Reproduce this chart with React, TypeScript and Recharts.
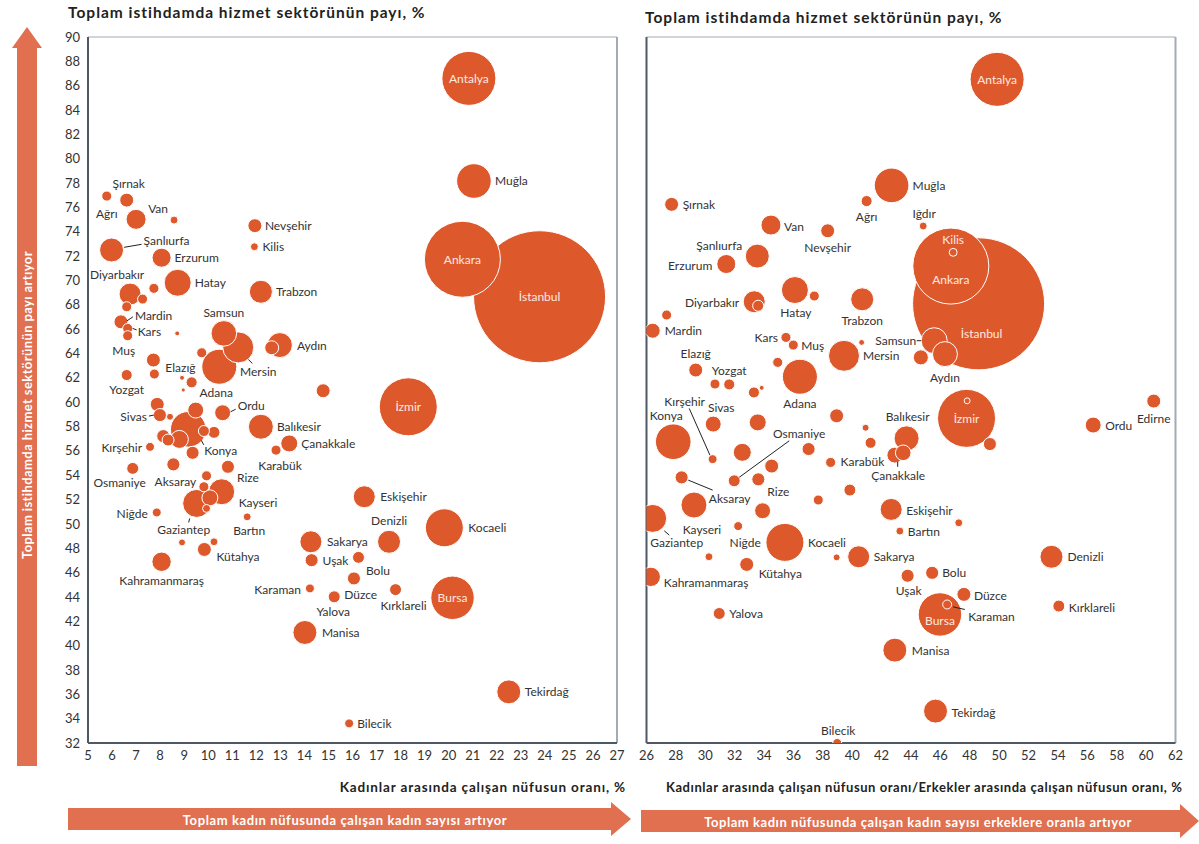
import React from 'react';
import { ScatterChart, Scatter, XAxis, YAxis, ZAxis, ReferenceLine } from 'recharts';

// --- left panel: female employment rate (%) vs service share (%) ---
const leftNames = ['Ağrı', 'Şırnak', 'Van', '', 'Nevşehir', 'Kilis', 'Şanlıurfa', 'Erzurum', 'Hatay', 'Diyarbakır', '', '', '', 'Mardin', 'Kars', 'Muş', '', '', 'Samsun', 'Mersin', 'Adana', 'Aydın', '', 'Trabzon', 'Elazığ', '', 'Yozgat', '', '', '', '', '', 'Sivas', '', '', 'Konya', 'Ordu', 'Balıkesir', 'Çanakkale', 'Karabük', '', '', '', '', '', '', 'Kırşehir', 'Osmaniye', 'Aksaray', 'Rize', 'Kayseri', '', '', '', '', 'Gaziantep', 'Niğde', 'Bartın', '', '', 'Kütahya', 'Kahramanmaraş', 'Sakarya', 'Uşak', 'Karaman', 'Düzce', 'Yalova', 'Manisa', 'Bolu', '', 'Denizli', 'Kırklareli', 'Eskişehir', 'Kocaeli', 'Bursa', 'Tekirdağ', 'Bilecik', 'İzmir', 'İstanbul', 'Ankara', 'Antalya', 'Muğla'];
const leftX = [5.78, 6.61, 7.0, 8.58, 11.94, 11.92, 5.98, 8.06, 8.73, 6.75, 7.27, 7.74, 6.61, 6.37, 6.65, 6.65, 8.71, 9.73, 10.65, 11.25, 10.46, 12.98, 12.64, 12.19, 7.72, 7.76, 6.61, 8.91, 9.31, 8.96, 14.78, 7.88, 7.99, 8.41, 9.48, 9.17, 10.6, 12.19, 13.37, 12.82, 9.82, 10.24, 8.13, 8.33, 8.8, 9.35, 7.58, 6.86, 8.55, 10.82, 10.56, 9.93, 9.82, 10.07, 9.93, 9.52, 7.86, 11.62, 8.91, 10.24, 9.84, 8.06, 14.27, 14.3, 14.23, 15.24, 15.24, 14.02, 16.06, 16.25, 17.52, 17.79, 16.49, 19.82, 20.16, 22.5, 15.86, 18.32, 23.78, 20.57, 20.84, 21.05];
const leftY = [76.93, 76.6, 75.02, 74.96, 74.5, 72.77, 72.5, 71.87, 69.81, 68.88, 68.47, 69.35, 67.84, 66.6, 66.06, 65.46, 65.65, 64.06, 65.65, 64.5, 62.91, 64.69, 64.47, 69.07, 63.46, 62.31, 62.23, 62.0, 61.63, 61.0, 60.94, 59.82, 58.94, 58.8, 59.35, 57.77, 59.13, 57.98, 56.61, 56.06, 57.63, 57.52, 57.21, 56.89, 56.94, 55.84, 56.33, 54.56, 54.89, 54.69, 52.64, 53.95, 53.05, 52.14, 51.27, 51.68, 50.94, 50.58, 48.48, 48.53, 47.9, 46.89, 48.53, 47.02, 44.7, 44.01, 44.01, 41.08, 45.52, 47.25, 48.53, 44.6, 52.23, 49.68, 43.93, 36.2, 33.61, 59.62, 68.66, 71.74, 86.6, 78.17];
const leftSize = [29, 56, 115, 18, 56, 18, 165, 104, 209, 139, 29, 29, 29, 56, 29, 29, 7, 29, 188, 276, 352, 179, 56, 152, 56, 29, 35, 7, 35, 5, 56, 56, 49, 14, 73, 364, 73, 179, 83, 29, 35, 41, 49, 41, 93, 49, 23, 41, 49, 49, 194, 29, 29, 73, 18, 225, 23, 18, 14, 18, 56, 108, 139, 49, 23, 41, 41, 165, 49, 41, 152, 41, 139, 414, 541, 165, 23, 965, 5000, 1658, 837, 344];

// --- right panel: female / male employment rate ratio (%) vs service share (%) ---
const rightNames = ['Şırnak', 'Van', 'Nevşehir', 'Ağrı', 'Muğla', 'Şanlıurfa', 'Erzurum', 'Iğdır', 'Antalya', 'Kilis', 'Ankara', 'İstanbul', 'Samsun', 'Aydın', '', 'İzmir', '', '', 'Ordu', 'Edirne', 'Balıkesir', 'Çanakkale', '', 'Diyarbakır', '', 'Hatay', '', 'Trabzon', '', 'Mardin', 'Kars', 'Muş', 'Mersin', '', 'Elazığ', '', 'Yozgat', '', 'Adana', '', '', 'Sivas', '', '', '', '', 'Konya', '', 'Kırşehir', 'Osmaniye', '', 'Karabük', '', 'Rize', 'Aksaray', '', '', 'Kayseri', '', 'Eskişehir', 'Gaziantep', 'Niğde', 'Kocaeli', '', 'Kütahya', '', 'Sakarya', 'Kahramanmaraş', 'Yalova', 'Manisa', 'Bilecik', 'Uşak', 'Bartın', '', 'Bolu', 'Düzce', 'Karaman', 'Bursa', 'Denizli', 'Kırklareli', 'Tekirdağ'];
const rightX = [27.71, 34.47, 38.33, 40.98, 42.68, 33.54, 31.43, 44.83, 49.86, 46.87, 46.71, 48.6, 45.58, 46.31, 44.67, 47.78, 47.82, 49.37, 56.4, 60.52, 43.7, 43.47, 42.9, 33.33, 33.6, 36.1, 37.42, 40.68, 27.37, 26.42, 35.49, 35.99, 39.44, 40.64, 29.35, 30.66, 31.63, 34.93, 36.44, 33.31, 33.84, 30.54, 33.57, 38.94, 40.91, 41.25, 27.82, 32.52, 30.5, 31.97, 37.03, 38.53, 34.52, 33.61, 28.39, 39.84, 37.69, 29.23, 33.9, 42.65, 26.42, 32.24, 35.42, 30.25, 32.82, 38.94, 40.44, 26.29, 30.95, 42.9, 38.98, 43.77, 43.24, 47.25, 45.44, 47.6, 46.46, 45.97, 53.56, 54.06, 45.67];
const rightY = [76.25, 74.55, 74.08, 76.52, 77.81, 72.0, 71.35, 74.47, 86.52, 72.31, 71.18, 68.08, 65.05, 63.95, 63.68, 58.67, 60.11, 56.56, 58.12, 60.09, 57.03, 55.84, 55.65, 68.25, 67.92, 69.21, 68.72, 68.45, 67.16, 65.87, 65.32, 64.69, 63.81, 64.91, 62.64, 61.49, 61.46, 63.27, 62.09, 60.8, 61.18, 58.2, 58.34, 58.88, 57.9, 56.66, 56.75, 55.88, 55.32, 53.54, 56.15, 55.05, 54.75, 53.66, 53.82, 52.78, 51.96, 51.55, 51.08, 51.19, 50.45, 49.82, 48.48, 47.3, 46.67, 47.25, 47.3, 45.65, 42.64, 39.63, 32.0, 45.74, 49.41, 50.09, 45.98, 44.21, 43.38, 42.56, 47.3, 43.25, 34.62];
const rightSize = [56, 115, 56, 35, 344, 165, 104, 18, 837, 18, 1658, 5000, 194, 179, 65, 965, 10, 49, 73, 56, 179, 70, 73, 139, 35, 209, 29, 152, 29, 65, 29, 29, 276, 10, 56, 29, 35, 29, 352, 35, 7, 73, 83, 56, 14, 35, 364, 93, 23, 41, 49, 29, 56, 49, 49, 41, 29, 194, 73, 139, 225, 23, 414, 18, 56, 14, 139, 108, 41, 165, 23, 49, 18, 18, 49, 56, 23, 541, 152, 41, 165];

const leftXTicks = [5, 6, 7, 8, 9, 10, 11, 12, 13, 14, 15, 16, 17, 18, 19, 20, 21, 22, 23, 24, 25, 26, 27];
const rightXTicks = [26, 28, 30, 32, 34, 36, 38, 40, 42, 44, 46, 48, 50, 52, 54, 56, 58, 60, 62];
const yTicks = [32, 34, 36, 38, 40, 42, 44, 46, 48, 50, 52, 54, 56, 58, 60, 62, 64, 66, 68, 70, 72, 74, 76, 78, 80, 82, 84, 86, 88, 90];

const FONT = "Lato, 'Open Sans', sans-serif";
const BUBBLE = '#DD582B';
const ARROW = '#E0704F';
const AXIS = '#4f5866';
const BORDER = '#a3aab2';
const TEXT = '#333';

type Tag = { dx: number; dy: number; a?: 'start' | 'middle' | 'end'; w?: boolean; line?: number[] };
const IN: Tag = { dx: 0, dy: 0, a: 'middle', w: true };

// label placement, relative to the bubble centre
const leftTags: Record<string, Tag> = {
  'Ağrı': { dx: 0, dy: 17, a: 'middle' },
  'Şırnak': { dx: 2, dy: -17, a: 'middle' },
  'Van': { dx: 22, dy: -11, a: 'middle' },
  'Nevşehir': { dx: 10, dy: 0 },
  'Kilis': { dx: 8, dy: 0 },
  'Şanlıurfa': { dx: 32, dy: -10, line: [12.6, -2.7, 30, -5.7] },
  'Erzurum': { dx: 13, dy: 0 },
  'Diyarbakır': { dx: -13, dy: -20, a: 'middle' },
  'Hatay': { dx: 17, dy: 0 },
  'Trabzon': { dx: 15, dy: 0 },
  'Mardin': { dx: 14, dy: -6, line: [6, -1, 12, -5] },
  'Kars': { dx: 10, dy: 3, line: [5, 0, 9, 1.5] },
  'Muş': { dx: -4, dy: 15, a: 'middle' },
  'Samsun': { dx: 0, dy: -21, a: 'middle' },
  'Mersin': { dx: 20, dy: 24, a: 'middle', line: [10, 12, 14, 16] },
  'Adana': { dx: -3, dy: 26, a: 'middle' },
  'Aydın': { dx: 17, dy: 0 },
  'Elazığ': { dx: 27, dy: 7, a: 'middle' },
  'Yozgat': { dx: 0, dy: 14, a: 'middle' },
  'Sivas': { dx: -13, dy: 1, a: 'end', line: [-6, 0, -11, 1] },
  'Ordu': { dx: 15, dy: -7, line: [8, -1, 13, -3.5] },
  'Konya': { dx: 16, dy: 21, line: [13, 11, 15.5, 15.5] },
  'Balıkesir': { dx: 16, dy: 0 },
  'Çanakkale': { dx: 12, dy: 0 },
  'Karabük': { dx: 4, dy: 15, a: 'middle' },
  'Kırşehir': { dx: -8, dy: 0.5, a: 'end' },
  'Osmaniye': { dx: -13, dy: 14, a: 'middle' },
  'Aksaray': { dx: 2, dy: 17, a: 'middle' },
  'Rize': { dx: 20, dy: 11, a: 'middle' },
  'Kayseri': { dx: 17, dy: 11 },
  'Gaziantep': { dx: -13, dy: 26, a: 'middle', line: [-7, 15, -8, 19] },
  'Niğde': { dx: -9, dy: 1, a: 'end' },
  'Bartın': { dx: 2, dy: 14, a: 'middle' },
  'Kütahya': { dx: 12, dy: 7 },
  'Kahramanmaraş': { dx: 0, dy: 19, a: 'middle' },
  'Sakarya': { dx: 16, dy: 0 },
  'Uşak': { dx: 11, dy: 0 },
  'Karaman': { dx: -9, dy: 1, a: 'end' },
  'Düzce': { dx: 10, dy: -2 },
  'Yalova': { dx: -1, dy: 15, a: 'middle' },
  'Manisa': { dx: 17, dy: 0 },
  'Bolu': { dx: 24, dy: -8, a: 'middle' },
  'Denizli': { dx: 0, dy: -21, a: 'middle' },
  'Kırklareli': { dx: 8, dy: 16, a: 'middle' },
  'Eskişehir': { dx: 16, dy: 0 },
  'Kocaeli': { dx: 24, dy: 0 },
  'Tekirdağ': { dx: 16, dy: 0 },
  'Bilecik': { dx: 8, dy: 0 },
  'Muğla': { dx: 21, dy: 0 },
  'Bursa': IN,
  'İzmir': IN,
  'İstanbul': IN,
  'Ankara': IN,
  'Antalya': IN,
};

const rightTags: Record<string, Tag> = {
  'Şırnak': { dx: 11, dy: 0 },
  'Van': { dx: 13, dy: 1 },
  'Nevşehir': { dx: 0, dy: 17, a: 'middle' },
  'Ağrı': { dx: 0, dy: 15, a: 'middle' },
  'Muğla': { dx: 21, dy: 0 },
  'Iğdır': { dx: 1, dy: -13, a: 'middle' },
  'Şanlıurfa': { dx: -38, dy: -11, a: 'middle' },
  'Erzurum': { dx: -14, dy: 1, a: 'end' },
  'Antalya': IN,
  'Kilis': { dx: 0, dy: -13, a: 'middle', w: true },
  'Ankara': { dx: 0, dy: 13, a: 'middle', w: true },
  'İstanbul': { dx: 3, dy: 30, a: 'middle', w: true },
  'Samsun': { dx: -18, dy: 0, a: 'end', line: [-17.5, 0, -13, 0] },
  'Aydın': { dx: 0, dy: 23, a: 'middle' },
  'İzmir': IN,
  'Ordu': { dx: 12, dy: 0 },
  'Edirne': { dx: 0, dy: 17, a: 'middle' },
  'Balıkesir': { dx: 1, dy: -22, a: 'middle' },
  'Çanakkale': { dx: -5, dy: 23, a: 'middle', line: [-5.5, 9, -5.5, 14] },
  'Diyarbakır': { dx: -15, dy: 0.5, a: 'end' },
  'Hatay': { dx: 1, dy: 22, a: 'middle' },
  'Trabzon': { dx: 0, dy: 21, a: 'middle' },
  'Mardin': { dx: 12, dy: 0 },
  'Kars': { dx: -8, dy: 0, a: 'end' },
  'Muş': { dx: 8, dy: 0 },
  'Mersin': { dx: 19, dy: 0 },
  'Elazığ': { dx: 0, dy: -17, a: 'middle' },
  'Yozgat': { dx: 0, dy: -14, a: 'middle' },
  'Adana': { dx: 0, dy: 27, a: 'middle' },
  'Sivas': { dx: 8, dy: -17, a: 'middle' },
  'Konya': { dx: -7, dy: -26, a: 'middle' },
  'Kırşehir': { dx: -28, dy: -58, a: 'middle', line: [-23.4, -50.7, -2.7, -4] },
  'Osmaniye': { dx: 65, dy: -47, a: 'middle', line: [55, -40, 5, -3.5] },
  'Aksaray': { dx: 48, dy: 21, a: 'middle', line: [6.6, 2.7, 31, 12.7] },
  'Karabük': { dx: 10, dy: -1 },
  'Rize': { dx: 20, dy: 12, a: 'middle' },
  'Kayseri': { dx: 8, dy: 24, a: 'middle' },
  'Eskişehir': { dx: 15, dy: 1 },
  'Gaziantep': { dx: 24, dy: 24, a: 'middle', line: [11.6, 12.4, 16.6, 16.7] },
  'Niğde': { dx: 7, dy: 16, a: 'middle' },
  'Kocaeli': { dx: 23, dy: 0 },
  'Kütahya': { dx: 12, dy: 9 },
  'Sakarya': { dx: 15, dy: 0 },
  'Kahramanmaraş': { dx: 13, dy: 6 },
  'Yalova': { dx: 10, dy: 0 },
  'Manisa': { dx: 17, dy: 0 },
  'Bilecik': { dx: 1, dy: -13, a: 'middle' },
  'Uşak': { dx: 1, dy: 15, a: 'middle' },
  'Bartın': { dx: 8, dy: 0 },
  'Bolu': { dx: 10, dy: 0 },
  'Düzce': { dx: 10, dy: 1 },
  'Karaman': { dx: 21, dy: 12, line: [6, 2.4, 17.7, 5] },
  'Bursa': { dx: 0, dy: 6, a: 'middle', w: true },
  'Denizli': { dx: 16, dy: 0 },
  'Kırklareli': { dx: 10, dy: 1 },
  'Tekirdağ': { dx: 16, dy: 1 },
};

const build = (names: string[], xs: number[], ys: number[], zs: number[]) =>
  names.map((name, i) => ({ name, x: xs[i], y: ys[i], z: zs[i] })).sort((a, b) => b.z - a.z);

const leftData = build(leftNames, leftX, leftY, leftSize);
const rightData = build(rightNames, rightX, rightY, rightSize);

const Bubble = (p: any) => {
  const r = p.width ? p.width / 2 : Math.sqrt((p.size || 0) / Math.PI);
  return <circle cx={p.cx} cy={p.cy} r={r} fill={BUBBLE} stroke="#fff" strokeWidth={1} />;
};

const tagShape = (tags: Record<string, Tag>) => (p: any) => {
  const t = tags[p.payload?.name];
  if (!t) return <g />;
  return (
    <g>
      {t.line && (
        <line x1={p.cx + t.line[0]} y1={p.cy + t.line[1]} x2={p.cx + t.line[2]} y2={p.cy + t.line[3]} stroke="#222" strokeWidth={1} />
      )}
      <text x={p.cx + t.dx} y={p.cy + t.dy} textAnchor={t.a || 'start'} dominantBaseline="central" fontSize={12} fill={t.w ? '#fde9e1' : TEXT}>
        {p.payload.name}
      </text>
    </g>
  );
};

const tickStyle = { fontSize: 13, fill: TEXT };

function Panel({ data, tags, ticks, domain, showY }: { data: any[]; tags: Record<string, Tag>; ticks: number[]; domain: [number, number]; showY: boolean }) {
  return (
    <ScatterChart width={showY ? 640 : 599} height={780} margin={showY ? { top: 37, right: 23, bottom: 7, left: 48 } : { top: 37, right: 23.5, bottom: 7, left: 6.5 }}>
      <XAxis type="number" dataKey="x" domain={domain} ticks={ticks} interval={0} tickLine={false} axisLine={{ stroke: AXIS, strokeWidth: 2 }} tick={tickStyle} height={30} allowDataOverflow />
      <YAxis type="number" dataKey="y" domain={[32, 90]} ticks={yTicks} interval={0} tickLine={false} axisLine={{ stroke: AXIS, strokeWidth: 2 }} tick={showY ? tickStyle : false} width={40} allowDataOverflow />
      <ZAxis type="number" dataKey="z" domain={[0, 5000]} range={[0, 13685]} />
      <ReferenceLine y={90} stroke={BORDER} strokeWidth={1} />
      <ReferenceLine x={domain[1]} stroke={BORDER} strokeWidth={2} />
      <Scatter data={data} shape={Bubble} isAnimationActive={false} />
      <Scatter data={data} shape={tagShape(tags)} isAnimationActive={false} />
    </ScatterChart>
  );
}

export default function App() {
  return (
    <div style={{ position: 'absolute', left: 0, top: 0, width: 1199, height: 844, background: '#fff', fontFamily: FONT, overflow: 'hidden' }}>
      <svg width={1199} height={844} style={{ position: 'absolute', left: 0, top: 0 }}>
        <polygon points="27,27 42,48 37,48 37,766 17,766 17,48 12,48" fill={ARROW} />
        <text transform="translate(27,405) rotate(-90)" textAnchor="middle" dominantBaseline="central" fontSize={13} letterSpacing={0.4} fontWeight="bold" fill="#fff">
          Toplam istihdamda hizmet sektörünün payı artıyor
        </text>
        <polygon points="68,808 611,808 611,802 631,819 611,836 611,830 68,830" fill={ARROW} />
        <text x={345} y={820} textAnchor="middle" dominantBaseline="central" fontSize={13} letterSpacing={0.6} fontWeight="bold" fill="#fff">
          Toplam kadın nüfusunda çalışan kadın sayısı artıyor
        </text>
        <polygon points="641,810 1180,810 1180,804 1199,821 1180,838 1180,832 641,832" fill={ARROW} />
        <text x={918} y={822} textAnchor="middle" dominantBaseline="central" fontSize={13} letterSpacing={0.55} fontWeight="bold" fill="#fff">
          Toplam kadın nüfusunda çalışan kadın sayısı erkeklere oranla artıyor
        </text>
        <text x={68} y={12} dominantBaseline="central" fontSize={15.5} letterSpacing={1} fontWeight="bold" fill="#222">
          Toplam istihdamda hizmet sektörünün payı, %
        </text>
        <text x={645} y={17} dominantBaseline="central" fontSize={15.5} letterSpacing={1} fontWeight="bold" fill="#222">
          Toplam istihdamda hizmet sektörünün payı, %
        </text>
        <text x={626} y={787} textAnchor="end" dominantBaseline="central" fontSize={13.5} letterSpacing={0.85} fontWeight="bold" fill="#222">
          Kadınlar arasında çalışan nüfusun oranı, %
        </text>
        <text x={666} y={787} dominantBaseline="central" fontSize={13} letterSpacing={0.55} fontWeight="bold" fill="#222">
          Kadınlar arasında çalışan nüfusun oranı/Erkekler arasında çalışan nüfusun oranı, %
        </text>
      </svg>
      <div style={{ position: 'absolute', left: 0, top: 0 }}>
        <Panel data={leftData} tags={leftTags} ticks={leftXTicks} domain={[5, 27]} showY />
      </div>
      <div style={{ position: 'absolute', left: 600, top: 0 }}>
        <Panel data={rightData} tags={rightTags} ticks={rightXTicks} domain={[26, 62]} showY={false} />
      </div>
    </div>
  );
}
